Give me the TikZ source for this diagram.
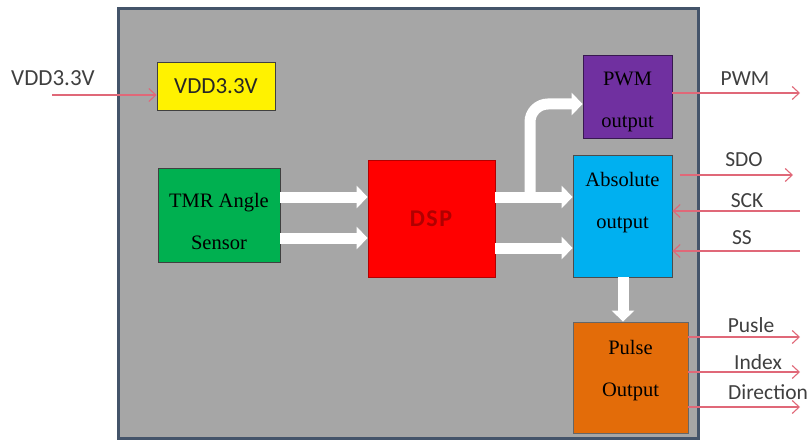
\documentclass[tikz,border=0pt]{standalone}
\usepackage{fontspec}
\setmainfont{Liberation Serif}
\newfontfamily\lblfont{Carlito}
\usetikzlibrary{arrows.meta}
\definecolor{frameg}{HTML}{A6A6A6}
\definecolor{frameb}{HTML}{44546A}
\definecolor{sigred}{HTML}{E06878}
\definecolor{lblgray}{HTML}{3F3F3F}
\definecolor{tmrgreen}{HTML}{00B050}
\definecolor{pwmpurple}{HTML}{7030A0}
\definecolor{absblue}{HTML}{00B0F0}
\definecolor{pulseorange}{HTML}{E36C09}
\definecolor{dspred}{HTML}{FF0000}
\definecolor{dsptext}{HTML}{B00000}
\tikzset{
  blk/.style={draw=black!75, line width=0.8pt, inner sep=0pt},
  blktext/.style={inner sep=0pt, align=center, font=\fontsize{20.5}{42}\selectfont},
  wharrow/.style={draw=white, line width=11pt, -{Triangle[width=22pt,length=11pt]}},
  sig/.style={draw=sigred, line width=1.1pt, -{Straight Barb[length=7pt,width=13pt,line width=1.1pt]}},
  lbl/.style={text=lblgray, font=\lblfont\fontsize{21.5}{24}\selectfont, inner sep=0pt}
}
\begin{document}
\begin{tikzpicture}[x=1pt,y=-1pt]
\useasboundingbox (0,0) rectangle (811,441);
% main frame
\draw[fill=frameg, draw=frameb, line width=3pt] (118,9) rectangle (698,438);
% blocks
\node[blk, fill=yellow, minimum width=118pt, minimum height=48pt, font=\lblfont\fontsize{23}{25}\selectfont, text=lblgray!60!black] (vdd) at (216,86) {VDD3.3V};
\node[blk, fill=tmrgreen, minimum width=122pt, minimum height=94pt] (tmr) at (219,215) {};
\node[blk, fill=dspred, draw=red!70!black, minimum width=127pt, minimum height=117pt] (dsp) at (431.5,218.5) {};
\node[blk, fill=pwmpurple, draw=pwmpurple!50!black, minimum width=89pt, minimum height=83pt] (pwm) at (627.5,96.5) {};
\node[blk, fill=absblue, draw=black!70, minimum width=99pt, minimum height=122pt] (abs) at (622.5,216) {};
\node[blk, fill=pulseorange, draw=black!60, minimum width=115pt, minimum height=111pt] (pulse) at (630.5,377.5) {};
% block texts
\node[blktext] (tmrt) at (219,221) {TMR Angle\\Sensor};
\node[text=dsptext, font=\lblfont\bfseries\fontsize{24}{26}\selectfont, inner sep=0pt] (dspt) at (431,219) {D\kern1.5pt S\kern1.5pt P};
\node[blktext] (pwmt) at (627.5,101.5) {PWM\\output};
\node[blktext] (abst) at (622.5,203) {Absolute\\output};
\node[blktext] (pulset) at (630.5,371) {Pulse\\Output};
% white arrows
\draw[wharrow] (tmr.east |- 0,197) -- (dsp.west |- 0,197);
\draw[wharrow] (tmr.east |- 0,238) -- (dsp.west |- 0,238);
\draw[wharrow] (dsp.east |- 0,197) -- (abs.west |- 0,197);
\draw[wharrow] (dsp.east |- 0,248) -- (abs.west |- 0,248);
\draw[wharrow, rounded corners=18pt] (530,197) -- (530,104) -- (pwm.west |- 0,104);
\draw[wharrow] (abs.south -| 623,0) -- (pulse.north -| 623,0);
% external signals
\coordinate (vddin) at (52,95);
\coordinate (pwmout) at (800,93);
\coordinate (sdoout) at (793,175);
\coordinate (sckin) at (800,211);
\coordinate (ssin) at (800,251);
\coordinate (pulsout) at (800,337);
\coordinate (idxout) at (800,372);
\coordinate (dirout) at (800,407);
\draw[sig] (vddin) -- (vdd.west |- vddin);
\draw[sig] (pwm.east |- pwmout) -- (pwmout);
\draw[sig] (680,175) -- (sdoout);
\draw[sig] (sckin) -- (abs.east |- sckin);
\draw[sig] (ssin) -- (abs.east |- ssin);
\draw[sig] (pulse.east |- pulsout) -- (pulsout);
\draw[sig] (pulse.east |- idxout) -- (idxout);
\draw[sig] (pulse.east |- dirout) -- (dirout);
% labels
\node[lbl, font=\lblfont\fontsize{23}{25}\selectfont] (lvdd) at (53,78) {VDD3.3V};
\node[lbl] (lpwm) at (745,79) {PWM};
\node[lbl] (lsdo) at (744,160) {SDO};
\node[lbl] (lsck) at (747,201) {SCK};
\node[lbl] (lss) at (742,238) {SS};
\node[lbl] (lpul) at (751,325) {Pusle};
\node[lbl] (lidx) at (758,362) {Index};
\node[lbl] (ldir) at (768,392) {Direction};
\end{tikzpicture}
\end{document}
